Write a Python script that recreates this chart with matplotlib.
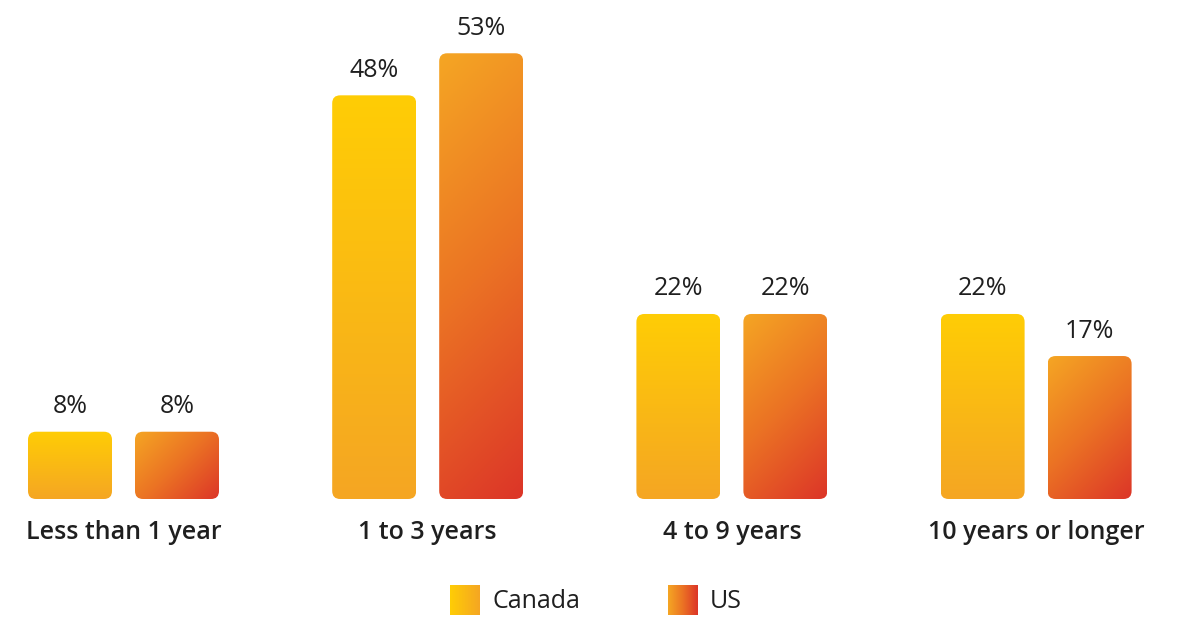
import numpy as np
import matplotlib.pyplot as plt
from matplotlib.patches import FancyBboxPatch
from matplotlib.colors import LinearSegmentedColormap

plt.rcParams['font.family'] = ['Open Sans', 'DejaVu Sans']

categories = ['Less than 1 year', '1 to 3 years', '4 to 9 years', '10 years or longer']
canada = [8, 48, 22, 22]
us = [8, 53, 22, 17]
series_names = ['Canada', 'US']

canada_cmap = LinearSegmentedColormap.from_list('canada', ['#FFCD05', '#F5A623'])
us_cmap = LinearSegmentedColormap.from_list('us', ['#F5A623', '#EB7224', '#DC3528'])
text_color = '#1f1f1f'

W, H = 1183, 617
fig = plt.figure(figsize=(W / 100, H / 100), dpi=100)

# axes placed so one category step is ~304 px and 1% is ~8.4 px
x_step_px = 304.2
y_px = 8.41
base_px = 118
ax = fig.add_axes([0, base_px / H, 1, (H - base_px - 2) / H])
x0 = -123.5 / x_step_px
xlim = (x0, x0 + W / x_step_px)
ylim = (0, (H - base_px - 2) / y_px)

bar_w_px = 84
bar_w = bar_w_px / x_step_px
offset = 53.5 / x_step_px
radius = 8 / x_step_px
aspect = x_step_px / y_px

n = 200


def gradient_bar(xc, h, cmap, diagonal):
    x = xc - bar_w / 2
    patch = FancyBboxPatch((x, 0), bar_w, h,
                           boxstyle=f'round,pad=0,rounding_size={radius}',
                           mutation_aspect=aspect, facecolor='none',
                           edgecolor='none')
    ax.add_patch(patch)
    # gradient parameter in pixel space: 0 at top-left, 1 at bottom-right
    h_px = h * y_px
    xs = np.linspace(0, bar_w_px, n)
    ys = np.linspace(0, h_px, n)
    gx, gy = np.meshgrid(xs, ys)
    if diagonal:
        t = (gx + gy) / (bar_w_px + h_px)
    else:
        t = gy / h_px
    # row 0 is the top of the bar
    im = ax.imshow(t, cmap=cmap, vmin=0, vmax=1, aspect='auto', origin='upper',
                   extent=(x, x + bar_w, 0, h), interpolation='bilinear')
    im.set_clip_path(patch)


for i, cat in enumerate(categories):
    for val, dx, cmap, diag in [(canada[i], -offset, canada_cmap, False),
                                (us[i], offset, us_cmap, True)]:
        gradient_bar(i + dx, val, cmap, diag)
        ax.annotate(f'{val}%', (i + dx, val), xytext=(0, 18),
                    textcoords='offset points', ha='center', va='center',
                    fontsize=18, color=text_color)
    ax.annotate(cat, (i, 0), xytext=(0, -24), textcoords='offset points',
                ha='center', va='center', fontsize=18, fontweight='semibold',
                color=text_color)

ax.set_xlim(*xlim)
ax.set_ylim(*ylim)
ax.axis('off')

# legend swatches with horizontal gradients
horiz = np.tile(np.linspace(0, 1, n), (n, 1))
legend_items = [(series_names[0], canada_cmap, 450), (series_names[1], us_cmap, 668)]
for name, cmap, px in legend_items:
    sw = fig.add_axes([px / W, (H - 615) / H, 30 / W, 30 / H])
    sw.imshow(horiz, cmap=cmap, aspect='auto', interpolation='bilinear')
    sw.axis('off')
    fig.text((px + 42) / W, (H - 601) / H, name, ha='left', va='center',
             fontsize=18, color=text_color)

fig.savefig('out.png', dpi=100, facecolor='white')
